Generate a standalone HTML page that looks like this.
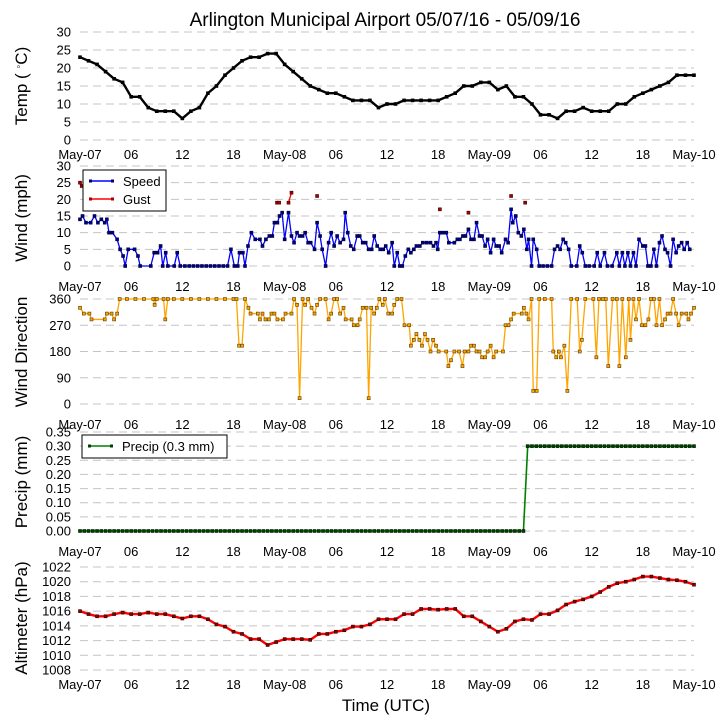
<!DOCTYPE html>
<html><head><meta charset="utf-8"><style>
body{margin:0;background:#fff;}
svg{display:block;font-family:"Liberation Sans",sans-serif;}
</style></head><body>
<svg id="chart" width="727" height="725" viewBox="0 0 727 725" xmlns="http://www.w3.org/2000/svg">
<text x="385" y="26" font-size="19" text-anchor="middle">Arlington Municipal Airport 05/07/16 - 05/09/16</text>
<text x="386" y="711" font-size="17" text-anchor="middle">Time (UTC)</text>
</svg>
<script>
// ---- data ----
const xTickLabels = ["May-07","06","12","18","May-08","06","12","18","May-09","06","12","18","May-10"];
const tempC = [23,22,21,19,17,16,12,12,9,8,8,8,6,8,9,13,15,18,20,22,23,23,24,24,21,19,17,15,14,13,13,12,11,11,11,9,10,10,11,11,11,11,11,12,13,15,15,16,16,14,15,12,12,10,7,7,6,8,8,9,8,8,8,10,10,12,13,14,15,16,18,18,18];
const windHours = [0,0.3,0.7,1.25,1.7,2.1,2.5,2.9,3.15,3.4,3.8,4.35,4.7,5.05,5.3,5.65,6.4,6.8,7.05,8.3,8.7,9.1,9.45,9.7,10.05,10.3,11.05,11.4,11.75,12.3,12.8,13.3,13.8,14.3,14.8,15.3,15.8,16.3,16.8,17.3,17.7,18.1,18.5,18.7,19.1,19.35,19.7,20.1,20.55,21.1,21.4,21.8,22.2,22.55,22.8,23.15,23.4,23.7,24.0,24.45,24.8,25.1,25.45,25.75,26.1,26.4,26.75,27.05,27.5,27.8,28.15,28.4,28.8,29.15,29.45,29.8,30.15,30.5,30.9,31.1,31.4,31.75,32.1,32.5,32.8,33.15,33.5,33.85,34.2,34.5,34.85,35.2,35.55,35.85,36.2,36.6,36.85,37.2,37.5,37.8,38.15,38.5,38.8,39.15,39.45,39.85,40.2,40.65,41.1,41.45,41.75,41.95,42.2,42.6,42.95,43.25,43.9,44.25,44.55,44.9,45.2,45.55,45.85,46.2,46.5,46.85,47.15,47.5,47.8,48.15,48.5,48.8,49.15,49.45,49.9,50.2,50.55,50.75,51.1,51.4,51.75,52.05,52.4,52.6,52.95,53.15,53.55,53.85,54.3,54.8,55.3,55.65,56.0,56.3,56.65,56.95,57.3,57.6,58.25,58.6,58.9,59.25,59.7,60.3,60.65,61.0,61.5,61.85,62.4,62.95,63.25,63.6,63.9,64.25,64.55,64.9,65.2,65.55,66.0,66.3,66.6,66.95,67.3,67.6,67.95,68.25,68.6,68.9,69.25,69.55,69.9,70.2,70.55,70.85,71.2,71.5,72];
const windSpeed = [14,15,13,13,15,13,14,13,14,10,10,8,5,3,0,5,5,3,0,0,4,4,6,0,4,0,0,4,0,0,0,0,0,0,0,0,0,0,0,0,5,0,0,4,4,0,6,10,8,8,6,8,9,9,13,13,15,16,8,16,9,7,10,9,9,10,7,7,5,13,9,5,0,7,10,6,9,7,8,16,10,6,5,9,9,7,7,5,5,9,6,5,5,6,4,7,0,4,0,0,3,5,4,5,6,6,7,7,7,6,7,5,10,10,10,7,7,8,8,9,9,11,8,8,13,9,9,6,8,4,8,6,6,4,8,7,17,13,15,10,9,11,5,8,0,8,5,0,0,0,0,5,6,5,8,7,5,0,0,6,4,0,0,0,4,0,4,0,0,4,0,4,0,4,0,4,0,8,6,6,0,0,5,0,7,9,5,4,0,8,4,6,7,5,7,5];
const gustHours = [0,0.2,23.1,23.35,24.45,24.8,27.8,42.2,45.55,50.55,52.2];
const gustSpeed = [25,24,19,19,19,22,21,17,16,21,19];
const dirHours = [0,0.45,1.1,1.35,2.9,3.15,3.7,4.0,4.35,4.65,5.5,6.5,7.5,8.6,8.75,9.0,9.8,10.0,10.3,11,12,13,14,15,16,17,18,18.35,18.65,19.0,19.35,19.75,20.0,20.85,21.1,21.4,21.75,22.15,22.45,22.8,23.15,23.8,24.1,24.8,25.1,25.45,25.75,26.1,26.4,26.75,27.15,27.5,27.8,28.15,28.8,29.15,29.45,29.8,30.15,30.5,30.9,31.15,31.85,32.1,32.55,32.8,33.15,33.6,33.85,34.15,34.5,34.8,35.1,35.5,35.75,36.15,36.6,36.85,37.2,37.7,38.05,38.6,38.8,39.15,39.45,39.8,40.1,40.45,40.75,41.1,41.4,41.75,42.05,42.95,43.2,43.5,43.9,44.45,44.85,45.1,45.55,45.85,46.2,46.5,46.85,47.15,47.5,47.8,48.15,48.5,48.8,49.6,49.9,50.25,50.55,50.85,51.8,52.05,52.35,52.6,52.95,53.15,53.55,53.85,54.5,55.3,55.5,55.85,56.15,56.4,56.8,57.15,57.6,58.3,58.6,58.85,59.25,60.2,60.55,60.85,61.3,61.65,61.95,62.45,62.95,63.25,63.6,64.0,64.35,64.55,64.9,65.2,65.55,65.9,66.3,66.65,66.95,67.3,67.6,67.95,68.25,68.6,68.9,69.25,69.55,69.9,70.2,70.55,71.1,71.35,71.65,72];
const windDir = [330,310,310,290,290,310,310,290,310,360,360,360,360,360,340,360,360,290,360,360,360,360,360,360,360,360,360,360,200,200,360,330,310,310,290,310,290,290,310,310,290,290,310,310,360,340,20,360,340,360,330,310,340,360,360,290,310,360,360,310,330,290,290,270,270,290,330,330,20,330,310,330,360,340,360,310,310,340,360,360,270,270,200,220,240,220,200,240,220,180,220,200,180,180,130,150,180,180,130,180,180,200,200,180,180,160,160,180,200,160,180,180,270,270,290,310,310,330,310,290,360,45,45,360,360,360,180,160,180,160,200,45,360,360,180,220,360,360,160,360,360,360,130,360,360,130,360,160,360,220,360,290,360,270,270,290,360,360,270,360,270,290,310,310,360,310,270,310,310,290,310,330];
const precipMM = [0,0,0,0,0,0,0,0,0,0,0,0,0,0,0,0,0,0,0,0,0,0,0,0,0,0,0,0,0,0,0,0,0,0,0,0,0,0,0,0,0,0,0,0,0,0,0,0,0,0,0,0,0,0,0,0,0,0,0,0,0,0,0,0,0,0,0,0,0,0,0,0,0,0,0,0,0,0,0,0,0,0,0,0,0,0,0,0,0,0,0,0,0,0,0,0,0,0,0,0,0,0,0,0,0,0.3,0.3,0.3,0.3,0.3,0.3,0.3,0.3,0.3,0.3,0.3,0.3,0.3,0.3,0.3,0.3,0.3,0.3,0.3,0.3,0.3,0.3,0.3,0.3,0.3,0.3,0.3,0.3,0.3,0.3,0.3,0.3,0.3,0.3,0.3,0.3,0.3,0.3,0.3,0.3];
const altimeterHPa = [1016,1015.6,1015.3,1015.3,1015.6,1015.8,1015.6,1015.6,1015.8,1015.6,1015.6,1015.3,1015,1015.3,1015.3,1014.9,1014.2,1013.9,1013.2,1012.9,1012.2,1012.2,1011.4,1011.8,1012.2,1012.2,1012.2,1012.1,1012.9,1012.9,1013.2,1013.4,1013.9,1013.9,1014.2,1014.9,1014.9,1014.9,1015.6,1015.6,1016.3,1016.3,1016.2,1016.3,1016.3,1015.3,1015.3,1014.6,1013.9,1013.2,1013.6,1014.6,1014.9,1014.8,1015.6,1015.6,1016.1,1016.9,1017.3,1017.6,1018,1018.6,1019.3,1019.8,1020,1020.3,1020.7,1020.7,1020.5,1020.3,1020.2,1020,1019.6];
const tempTicks = [0,5,10,15,20,25,30];
const windTicks = [0,5,10,15,20,25,30];
const dirTicks = [0,90,180,270,360];
const precipTicks = ["0.00","0.05","0.10","0.15","0.20","0.25","0.30","0.35"];
const altTicks = [1008,1010,1012,1014,1016,1018,1020,1022];

// ---- layout ----
const NS = "http://www.w3.org/2000/svg";
const svg = document.getElementById("chart");
const X0 = 80, X1 = 694, HOURS = 72;
const xScale = h => X0 + (X1 - X0) * h / HOURS;
function mk(tag, attrs, parent) {
  const e = document.createElementNS(NS, tag);
  for (const k in attrs) e.setAttribute(k, attrs[k]);
  (parent || svg).appendChild(e);
  return e;
}
function yScaleFor(p) { return v => p.yb - (v - p.min) / (p.max - p.min) * (p.yb - p.yt); }

const panels = [
  {key:"temp", yt:32, yb:140, min:0, max:30, ticks:tempTicks, label:"Temp", labelY:86, xLabY:159},
  {key:"wind", yt:166, yb:266, min:0, max:30, ticks:windTicks, label:"Wind (mph)", labelY:218, xLabY:291},
  {key:"dir", yt:299, yb:404, min:0, max:360, ticks:dirTicks, label:"Wind Direction", labelY:352, xLabY:429},
  {key:"precip", yt:432, yb:531, min:0, max:0.35, ticks:precipTicks, label:"Precip (mm)", labelY:482, xLabY:556},
  {key:"alt", yt:567, yb:670, min:1008, max:1022, ticks:altTicks, label:"Altimeter (hPa)", labelY:618, xLabY:689}
];

panels.forEach(p => {
  const y = yScaleFor(p);
  p.y = y;
  const g = mk("g", {});
  
  
  p.g = g;
  p.ticks.forEach(t => {
    const v = parseFloat(t);
    const line = mk("line", {x1:X0, x2:X1, y1:y(v), y2:y(v), stroke:"#c4c4c4", "stroke-width":1, "stroke-dasharray":"8,5"}, g);
    
    
    const tx = mk("text", {x:71, y:y(v) + 4.5, "font-size":13, "text-anchor":"end"}, g);
    
    
    tx.textContent = t;
  });
  xTickLabels.forEach((lab, i) => {
    const tx = mk("text", {x:xScale(i * 6), y:p.xLabY, "font-size":13, "text-anchor":"middle"}, g);
    
    
    tx.textContent = lab;
  });
  const yl = mk("text", {x:0, y:0, "font-size":17, "text-anchor":"middle", transform:`translate(27,${p.labelY}) rotate(-90)`}, g);
  
  
  if (p.key === "temp") {
    yl.textContent = "Temp ( ";
    const sup = mk("tspan", {"font-size":11, dy:-5}, yl);
    sup.textContent = "\u25E6";
    const rest = mk("tspan", {dy:5}, yl);
    rest.textContent = "C)";
  } else yl.textContent = p.label;
});

function series(p, hours, vals, color, markFill, markStroke, name, width, gapMax) {
  let d = "";
  for (let i = 0; i < vals.length; i++) {
    const px = xScale(hours[i]).toFixed(2), py = p.y(vals[i]).toFixed(2);
    const brk = i === 0 || (gapMax && hours[i] - hours[i-1] > gapMax);
    d += (brk ? "M" : "L") + px + "," + py;
  }
  const path = mk("path", {d, fill:"none", stroke:color, "stroke-width":width, "stroke-linejoin":"round"}, p.g);
  
  
  for (let i = 0; i < vals.length; i++) {
    const r = mk("rect", {x:xScale(hours[i]) - 1.5, y:p.y(vals[i]) - 1.5, width:3, height:3, fill:markFill, stroke:markStroke, "stroke-width":0.6}, p.g);
    
    
  }
}
const hourly = tempC.map((_, i) => i);
const halfHourly = precipMM.map((_, i) => i * 0.5);
series(panels[0], hourly, tempC, "#000", "#000", "#000", "temp", 2.4);
series(panels[1], windHours, windSpeed, "#0000ff", "#000080", "#000040", "wind-speed", 1.3);
series(panels[1], gustHours, gustSpeed, "#ff0000", "#aa0000", "#400000", "wind-gust", 1.3, 0.4);
series(panels[2], dirHours, windDir, "#ffa500", "#ffa500", "#5a3a00", "wind-direction", 1.3);
series(panels[3], halfHourly, precipMM, "#008000", "#004000", "#002000", "precip", 1.6);
series(panels[4], hourly, altimeterHPa, "#ff0000", "#880000", "#300000", "altimeter", 2.4);

// legends
function legend(x, y, w, h, entries, name) {
  const g = mk("g", {});
  
  
  mk("rect", {x, y, width:w, height:h, fill:"#fff", stroke:"#000", "stroke-width":1}, g);
  entries.forEach((e, i) => {
    const ly = y + 11 + i * 18;
    mk("line", {x1:x + 7, x2:x + 30, y1:ly, y2:ly, stroke:e.c, "stroke-width":1.5}, g);
    mk("rect", {x:x + 6, y:ly - 1.5, width:3, height:3, fill:e.m}, g);
    mk("rect", {x:x + 28, y:ly - 1.5, width:3, height:3, fill:e.m}, g);
    const t = mk("text", {x:x + 40, y:ly + 5, "font-size":13}, g);
    
    
    t.textContent = e.t;
  });
}
legend(83, 170, 83, 41, [{t:"Speed", c:"#0000ff", m:"#000080"}, {t:"Gust", c:"#ff0000", m:"#aa0000"}], "wind-legend");
legend(82, 435, 145, 23, [{t:"Precip (0.3 mm)", c:"#008000", m:"#004000"}], "precip-legend");
</script>
</body></html>
